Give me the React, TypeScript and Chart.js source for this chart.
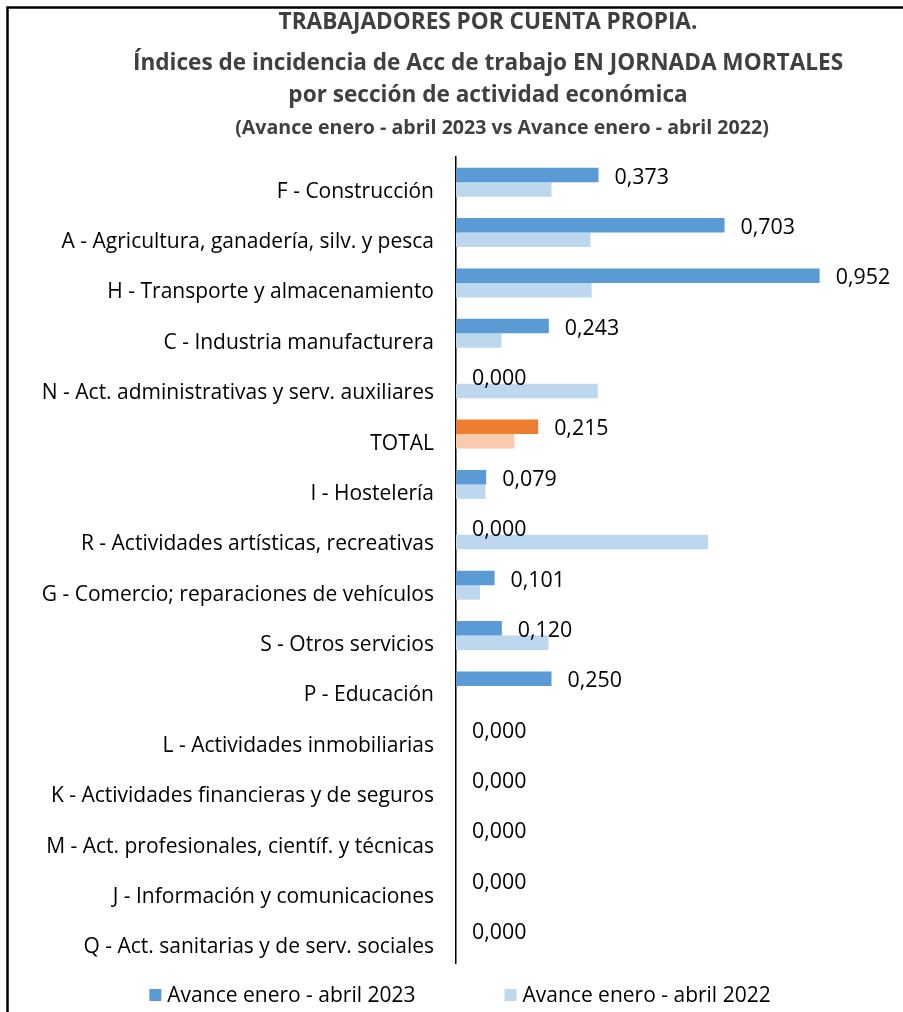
import React, { useEffect, useRef } from "react";
import { Chart, registerables } from "chart.js";

Chart.register(...registerables);

const categories = [
  "F - Construcción",
  "A - Agricultura, ganadería, silv. y pesca",
  "H - Transporte y almacenamiento",
  "C - Industria manufacturera",
  "N - Act. administrativas y serv. auxiliares",
  "TOTAL",
  "I - Hostelería",
  "R - Actividades artísticas, recreativas",
  "G - Comercio; reparaciones de vehículos",
  "S - Otros servicios",
  "P - Educación",
  "L - Actividades inmobiliarias",
  "K - Actividades financieras y de seguros",
  "M - Act. profesionales, científ. y técnicas",
  "J - Información y comunicaciones",
  "Q - Act. sanitarias y de serv. sociales",
];

const values2023 = [0.373, 0.703, 0.952, 0.243, 0.0, 0.215, 0.079, 0.0, 0.101, 0.12, 0.25, 0.0, 0.0, 0.0, 0.0, 0.0];
const values2022 = [0.25, 0.352, 0.355, 0.119, 0.371, 0.153, 0.077, 0.66, 0.063, 0.242, 0.0, 0.0, 0.0, 0.0, 0.0, 0.0];

const seriesLabels = ["Avance enero - abril 2023", "Avance enero - abril 2022"];
const totalCategory = "TOTAL";

const titleLines = [
  "TRABAJADORES POR CUENTA PROPIA.",
  "Índices de incidencia de Acc de trabajo EN JORNADA MORTALES",
  "por sección de actividad económica",
];
const subtitleLine = "(Avance enero - abril 2023 vs Avance enero - abril 2022)";

const FONT = "'Open Sans', Lato, sans-serif";
const BLUE = "#5B9BD5";
const LIGHT_BLUE = "#BDD7EE";
const ORANGE = "#ED7D31";
const LIGHT_ORANGE = "#F8CBAD";

const fmt = (v: number) => v.toFixed(3).replace(".", ",");

const decorPlugin = {
  id: "decor",
  afterDraw(chart: any) {
    const ctx = chart.ctx as CanvasRenderingContext2D;
    ctx.save();
    // frame
    ctx.strokeStyle = "#000";
    ctx.lineWidth = 2.5;
    ctx.beginPath();
    ctx.moveTo(7.5, chart.height);
    ctx.lineTo(7.5, 7.5);
    ctx.lineTo(chart.width, 7.5);
    ctx.stroke();

    // title
    ctx.fillStyle = "#404040";
    ctx.textAlign = "center";
    ctx.textBaseline = "middle";
    ctx.font = `bold 22.6px ${FONT}`;
    const titleY = [23, 64, 96];
    titleLines.forEach((t, i) => ctx.fillText(t, 488, titleY[i]));
    ctx.font = `bold 19.6px ${FONT}`;
    ctx.fillText(subtitleLine, 502, 128);

    // value labels for 2023 series
    const meta = chart.getDatasetMeta(0);
    ctx.font = `21.4px ${FONT}`;
    ctx.fillStyle = "#000";
    ctx.textAlign = "left";
    meta.data.forEach((bar: any, i: number) => {
      ctx.fillText(fmt(values2023[i]), bar.x + 16, bar.y + 2.5);
    });

    // legend
    ctx.font = `21px ${FONT}`;
    const ds = chart.data.datasets;
    const boxSize = 12;
    const textGap = 6;
    const itemGap = 89;
    const widths = ds.map((d: any) => boxSize + textGap + ctx.measureText(d.label).width);
    const total = widths.reduce((a: number, b: number) => a + b, 0) + itemGap * (ds.length - 1);
    let x = 460 - total / 2;
    const ly = 995;
    ds.forEach((d: any, i: number) => {
      ctx.fillStyle = d.legendColor;
      ctx.fillRect(x, ly - boxSize / 2, boxSize, boxSize);
      ctx.fillStyle = "#000";
      ctx.fillText(d.label, x + boxSize + textGap, ly + 1);
      x += widths[i] + itemGap;
    });
    ctx.restore();
  },
};

export default function App() {
  const ref = useRef<HTMLCanvasElement | null>(null);

  useEffect(() => {
    if (!ref.current) return;
    const chart = new Chart(ref.current, {
      type: "bar",
      data: {
        labels: categories,
        datasets: [
          {
            label: seriesLabels[0],
            data: values2023,
            backgroundColor: categories.map((c) => (c === totalCategory ? ORANGE : BLUE)),
            legendColor: BLUE,
            categoryPercentage: 0.575,
            barPercentage: 1,
            borderWidth: 0,
          } as any,
          {
            label: seriesLabels[1],
            data: values2022,
            backgroundColor: categories.map((c) => (c === totalCategory ? LIGHT_ORANGE : LIGHT_BLUE)),
            legendColor: LIGHT_BLUE,
            categoryPercentage: 0.575,
            barPercentage: 1,
            borderWidth: 0,
          } as any,
        ],
      },
      options: {
        indexAxis: "y",
        responsive: false,
        animation: false,
        devicePixelRatio: 1,
        layout: { padding: { top: 157, bottom: 49, left: 0, right: 65 } },
        scales: {
          x: { display: false, min: 0, max: 1 },
          y: {
            grid: { display: false, drawTicks: false },
            border: { display: true, color: "#000", width: 1.5 },
            ticks: {
              color: "#000",
              font: { family: FONT, size: 21 },
              padding: 22,
              labelOffset: 9.5,
              autoSkip: false,
            },
            afterFit: (s: any) => {
              s.width = 456;
            },
          },
        },
        plugins: {
          legend: { display: false },
          title: { display: false },
          tooltip: { enabled: false },
        },
      },
      plugins: [decorPlugin],
    });
    return () => chart.destroy();
  }, []);

  return (
    <div style={{ position: "absolute", left: 0, top: 0, width: 903, height: 1012, background: "#fff" }}>
      <canvas ref={ref} width={903} height={1012} style={{ width: 903, height: 1012, display: "block" }} />
    </div>
  );
}
